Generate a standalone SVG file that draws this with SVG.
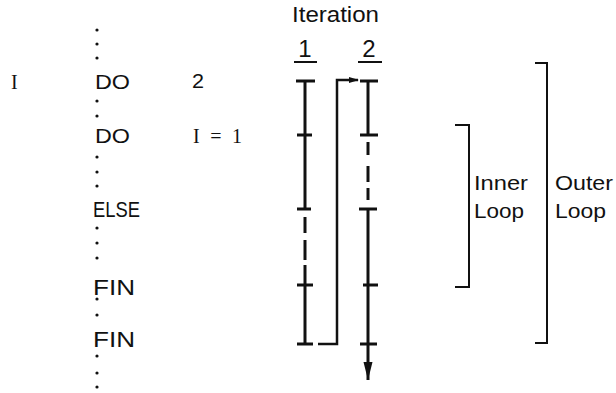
<svg xmlns="http://www.w3.org/2000/svg" width="616" height="393" viewBox="0 0 616 393">
<defs>
<style>
.s{font-family:"Liberation Sans","Noto Sans",sans-serif;fill:#111}
.r{font-family:"Liberation Serif","DejaVu Serif",serif;fill:#111}
.ln{stroke:#111;stroke-width:3;fill:none}
.tk{stroke:#111;stroke-width:3}
.br{stroke:#111;stroke-width:2;fill:none}
.ds{stroke:#111;stroke-width:3;fill:none}
.dot{fill:#111}
</style>
<marker id="ahR" markerWidth="10" markerHeight="8" refX="9" refY="4" orient="auto" markerUnits="userSpaceOnUse">
<path d="M0,1 L10,4 L0,7 Z" fill="#111"/>
</marker>
<marker id="ahD" markerWidth="20" markerHeight="10" refX="18" refY="5" orient="auto" markerUnits="userSpaceOnUse">
<path d="M0,0.5 L18,5 L0,9.5 Z" fill="#111"/>
</marker>
</defs>
<rect width="616" height="393" fill="#fff"/>

<g id="program">
<g class="dot">
<circle cx="97" cy="30" r="1.6"/><circle cx="97" cy="44" r="1.6"/><circle cx="97" cy="58" r="1.6"/>
<circle cx="97" cy="101" r="1.6"/><circle cx="97" cy="116" r="1.6"/>
<circle cx="97" cy="157" r="1.6"/><circle cx="97" cy="172" r="1.6"/><circle cx="97" cy="186" r="1.6"/>
<circle cx="97" cy="228" r="1.6"/><circle cx="97" cy="243" r="1.6"/><circle cx="97" cy="258" r="1.6"/>
<circle cx="97" cy="299" r="1.6"/><circle cx="97" cy="315" r="1.6"/>
<circle cx="97" cy="356" r="1.6"/><circle cx="97" cy="373" r="1.6"/><circle cx="97" cy="387" r="1.6"/>
</g>
<text class="r" x="11" y="89" font-size="20">I</text>
<text class="s" x="95" y="89" font-size="20" textLength="35" lengthAdjust="spacingAndGlyphs">DO</text>
<text class="s" x="192" y="88" font-size="20" textLength="12" lengthAdjust="spacingAndGlyphs">2</text>
<text class="s" x="95" y="143" font-size="20" textLength="35" lengthAdjust="spacingAndGlyphs">DO</text>
<text class="r" x="193" y="143" font-size="20" textLength="49" lengthAdjust="spacing">I = 1</text>
<text class="s" x="93" y="217" font-size="22" textLength="47" lengthAdjust="spacingAndGlyphs">ELSE</text>
<text class="s" x="93" y="295" font-size="22" textLength="42" lengthAdjust="spacingAndGlyphs">FIN</text>
<text class="s" x="93" y="347" font-size="22" textLength="42" lengthAdjust="spacingAndGlyphs">FIN</text>
</g>

<g id="header">
<text class="s" x="292" y="22" font-size="22" textLength="87" lengthAdjust="spacingAndGlyphs">Iteration</text>
<text class="s" x="305" y="57" font-size="24" text-anchor="middle">1</text>
<text class="s" x="369" y="57" font-size="24" text-anchor="middle">2</text>
<line class="br" x1="294" y1="62" x2="317" y2="62"/>
<line class="br" x1="358" y1="62" x2="382" y2="62"/>
</g>

<g id="iteration1">
<line class="ln" x1="305" y1="81" x2="305" y2="209"/>
<line class="ds" x1="305" y1="217" x2="305" y2="233"/>
<line class="ds" x1="305" y1="240" x2="305" y2="260"/>
<line class="ds" x1="305" y1="265" x2="305" y2="285"/>
<line class="ln" x1="305" y1="285" x2="305" y2="344"/>
<line class="tk" x1="296" y1="81" x2="315" y2="81"/>
<line class="tk" x1="297" y1="135" x2="312" y2="135"/>
<line class="tk" x1="297" y1="209" x2="311" y2="209"/>
<line class="tk" x1="297" y1="285" x2="313" y2="285"/>
<line class="tk" x1="297" y1="344" x2="313" y2="344"/>
</g>

<g id="iteration2">
<line class="ln" x1="368" y1="81" x2="368" y2="135"/>
<line class="ds" x1="368" y1="142" x2="368" y2="155"/>
<line class="ds" x1="368" y1="166" x2="368" y2="182"/>
<line class="ds" x1="368" y1="188" x2="368" y2="200"/>
<line class="ln" x1="368" y1="209" x2="368" y2="380" marker-end="url(#ahD)"/>
<line class="tk" x1="360" y1="81" x2="378" y2="81"/>
<line class="tk" x1="360" y1="135" x2="378" y2="135"/>
<line class="tk" x1="359" y1="209" x2="377" y2="209"/>
<line class="tk" x1="363" y1="285" x2="378" y2="285"/>
<line class="tk" x1="360" y1="344" x2="377" y2="344"/>
</g>

<g id="connectors">
<polyline class="br" points="318,344 337,344 337,80 358,80" marker-end="url(#ahR)" style="stroke-width:2.5"/>
</g>

<g id="innerLoop">
<polyline class="br" points="455,125 469,125 469,287 455,287"/>
<text class="s" x="474" y="190" font-size="21" textLength="54" lengthAdjust="spacingAndGlyphs">Inner</text>
<text class="s" x="474" y="218" font-size="21" textLength="50" lengthAdjust="spacingAndGlyphs">Loop</text>
</g>

<g id="outerLoop">
<polyline class="br" points="535,63 547,63 547,343 535,343"/>
<text class="s" x="555" y="190" font-size="21" textLength="58" lengthAdjust="spacingAndGlyphs">Outer</text>
<text class="s" x="555" y="218" font-size="21" textLength="51" lengthAdjust="spacingAndGlyphs">Loop</text>
</g>
</svg>
